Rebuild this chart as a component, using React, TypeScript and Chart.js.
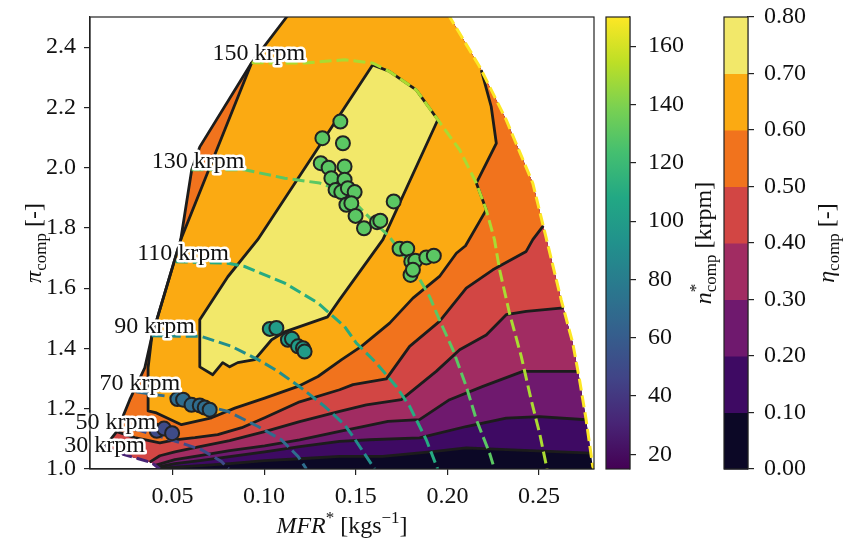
import React, { useEffect, useRef } from "react";
import { Chart, registerables } from "chart.js";

Chart.register(...registerables);

type P = [number, number];

// ---------- axes ----------
const X_MIN = 0.005;
const X_MAX = 0.28;
const Y_MIN = 1.0;
const Y_MAX = 2.5;
const xTicks = [0.05, 0.1, 0.15, 0.2, 0.25];
const yTicks = [1.0, 1.2, 1.4, 1.6, 1.8, 2.0, 2.2, 2.4];
const speedMin = 15;
const speedMax = 170;
const speedTicks = [20, 40, 60, 80, 100, 120, 140, 160];
const etaLevels = [0, 0.1, 0.2, 0.3, 0.4, 0.5, 0.6, 0.7, 0.8];
const etaColors = ["#0c0826", "#3e0a63", "#6f196e", "#a12c62", "#d24644", "#f1731d", "#fbaa12", "#f2e86a"];

// ---------- map boundary ----------
const surgeLine: P[] = [
  [0.0131, 1.074], [0.0196, 1.124], [0.0267, 1.23], [0.0349, 1.336], [0.0387, 1.439],
  [0.0545, 1.761], [0.0605, 1.993], [0.0649, 2.069], [0.0932, 2.348], [0.1123, 2.5], [0.132, 2.656],
];

// ---------- speed lines (krpm) ----------
const speedLineValues = [30, 50, 70, 90, 110, 130, 150, 170];
const speed30: P[] = [[0.0131, 1.074], [0.0202, 1.054], [0.0294, 1.0375], [0.0387, 1.021], [0.0431, 1.0]];
const speed50: P[] = [[0.0202, 1.13], [0.0311, 1.13], [0.0549, 1.086], [0.0658, 1.064], [0.0767, 1.025], [0.0807, 1.0]];
const speed70: P[] = [[0.03, 1.256], [0.0476, 1.241], [0.0622, 1.219], [0.0803, 1.191], [0.0967, 1.141], [0.1094, 1.097], [0.1185, 1.042], [0.1231, 1.0]];
const speed90: P[] = [[0.0387, 1.442], [0.0658, 1.44], [0.0822, 1.407], [0.0967, 1.363], [0.1076, 1.324], [0.1203, 1.269], [0.133, 1.208], [0.1439, 1.147], [0.1485, 1.108], [0.1603, 1.0]];
const speed110: P[] = [[0.0518, 1.688], [0.0803, 1.683], [0.0894, 1.672], [0.1112, 1.617], [0.1294, 1.551], [0.1439, 1.473], [0.1503, 1.418], [0.1612, 1.352], [0.1721, 1.274], [0.1794, 1.208], [0.1885, 1.097], [0.1947, 1.0]];
const speed130: P[] = [[0.0604, 1.993], [0.0894, 1.993], [0.1112, 1.965], [0.1303, 1.949], [0.1439, 1.92], [0.1549, 1.85], [0.1685, 1.77], [0.183, 1.65], [0.1903, 1.572], [0.1957, 1.495], [0.203, 1.396], [0.2103, 1.274], [0.2158, 1.164], [0.223, 1.053], [0.2257, 1.0]];
const speed150: P[] = [[0.0932, 2.348], [0.1221, 2.347], [0.1439, 2.358], [0.1594, 2.347], [0.1685, 2.319], [0.183, 2.258], [0.1948, 2.159], [0.2067, 2.059], [0.2158, 1.949], [0.2212, 1.86], [0.2257, 1.761], [0.2285, 1.661], [0.2339, 1.517], [0.2403, 1.374], [0.2457, 1.23], [0.2503, 1.119], [0.2544, 1.0]];
const speed170: P[] = [[0.1859, 2.656], [0.2012, 2.501], [0.2176, 2.335], [0.2321, 2.1585], [0.2466, 1.9486], [0.2539, 1.767], [0.2621, 1.5615], [0.2684, 1.418], [0.2721, 1.296], [0.2757, 1.1635], [0.2793, 1.0086], [0.28, 1.0]];

const speedLabels = ["30 krpm", "50 krpm", "70 krpm", "90 krpm", "110 krpm", "130 krpm", "150 krpm"];
const speedLabelX = [0.0129, 0.0191, 0.0322, 0.0403, 0.0558, 0.064, 0.0971];
const speedLabelY = [1.056, 1.134, 1.263, 1.452, 1.694, 1.998, 2.358];

// ---------- efficiency contours (right boundary -> left) ----------
const contour01: P[] = [[0.2783, 1.053], [0.2321, 1.064], [0.2103, 1.07], [0.1921, 1.058], [0.1648, 1.042], [0.1412, 1.042], [0.1194, 1.034], [0.1003, 1.028], [0.0812, 1.018], [0.0649, 1.011], [0.0513, 1.006], [0.0428, 1.0015]];
const contour02: P[] = [[0.2757, 1.1635], [0.2503, 1.174], [0.2321, 1.169], [0.2103, 1.141], [0.1848, 1.103], [0.1576, 1.097], [0.1412, 1.092], [0.1194, 1.074], [0.1003, 1.057], [0.0812, 1.041], [0.0649, 1.028], [0.0513, 1.018], [0.0418, 1.006]];
const contour03: P[] = [[0.2712, 1.324], [0.2412, 1.324], [0.2194, 1.274], [0.2012, 1.23], [0.1848, 1.164], [0.1676, 1.158], [0.1539, 1.141], [0.1412, 1.125], [0.1194, 1.097], [0.1003, 1.077], [0.0812, 1.061], [0.0649, 1.044], [0.0513, 1.031], [0.0405, 1.012]];
const contour04: P[] = [[0.2633, 1.535], [0.243, 1.523], [0.2321, 1.512], [0.2212, 1.445], [0.2067, 1.396], [0.1939, 1.324], [0.1749, 1.23], [0.1558, 1.213], [0.1412, 1.191], [0.1194, 1.157], [0.1003, 1.124], [0.0812, 1.094], [0.0649, 1.074], [0.0513, 1.057], [0.0431, 1.044], [0.0376, 1.023]];
const contour05: P[] = [[0.2523, 1.807], [0.2466, 1.761], [0.243, 1.722], [0.2248, 1.661], [0.2103, 1.6], [0.1957, 1.49], [0.1794, 1.407], [0.1667, 1.299], [0.1485, 1.28], [0.1412, 1.263], [0.1194, 1.223], [0.1003, 1.17], [0.0878, 1.137], [0.0747, 1.114], [0.0622, 1.104], [0.0513, 1.097], [0.0431, 1.087], [0.0294, 1.104], [0.0196, 1.124]];
const contour06: P[] = [[0.2185, 2.324], [0.2239, 2.203], [0.2267, 2.081], [0.2158, 1.949], [0.2212, 1.86], [0.2099, 1.741], [0.2049, 1.716], [0.1957, 1.639], [0.1812, 1.567], [0.1685, 1.484], [0.1531, 1.407], [0.1423, 1.363], [0.1294, 1.307], [0.1185, 1.274], [0.1003, 1.235], [0.084, 1.202], [0.0713, 1.17], [0.0549, 1.147], [0.0413, 1.186], [0.0367, 1.193], [0.0367, 1.336], [0.0387, 1.439], [0.0545, 1.761], [0.0932, 2.348]];
const contour07: P[] = [[0.1592, 2.341], [0.1685, 2.319], [0.183, 2.258], [0.1948, 2.159], [0.1648, 1.761], [0.1412, 1.562], [0.1347, 1.505], [0.1112, 1.455], [0.1041, 1.429], [0.0949, 1.363], [0.0856, 1.353], [0.0812, 1.339], [0.0774, 1.353], [0.072, 1.313], [0.0649, 1.339], [0.0649, 1.495], [0.0802, 1.638], [0.0965, 1.761], [0.1592, 2.341]];

// ---------- measured operating points ----------
const pointSpeeds = [130, 100, 70, 50];
const points130: P[] = [[0.1416, 2.153], [0.1318, 2.098], [0.143, 2.081], [0.1309, 2.015], [0.1352, 2.0], [0.1439, 2.004], [0.1367, 1.965], [0.1439, 1.96], [0.139, 1.926], [0.1421, 1.919], [0.1457, 1.932], [0.1494, 1.919], [0.1449, 1.877], [0.1476, 1.882], [0.1499, 1.84], [0.1545, 1.799], [0.1616, 1.819], [0.1634, 1.824], [0.1707, 1.888], [0.1739, 1.731], [0.1781, 1.731], [0.1803, 1.689], [0.1825, 1.691], [0.1885, 1.702], [0.1926, 1.708], [0.1799, 1.644], [0.1812, 1.661]];
const points100: P[] = [[0.1031, 1.465], [0.1067, 1.468], [0.113, 1.429], [0.1152, 1.432], [0.1185, 1.407], [0.1212, 1.401], [0.1221, 1.39]];
const points70: P[] = [[0.0527, 1.232], [0.0558, 1.23], [0.0604, 1.213], [0.0649, 1.211], [0.0676, 1.204], [0.0703, 1.197]];
const points50: P[] = [[0.0414, 1.127], [0.0454, 1.134], [0.0498, 1.119]];

// ---------- helpers ----------
const VIRIDIS = ["#440154", "#482475", "#414487", "#355f8d", "#2a788e", "#21918c", "#22a884", "#44bf70", "#7ad151", "#bddf26", "#fde725"];
function hexToRgb(h: string) {
  return [parseInt(h.slice(1, 3), 16), parseInt(h.slice(3, 5), 16), parseInt(h.slice(5, 7), 16)];
}
function viridis(v: number) {
  const t = Math.min(1, Math.max(0, (v - speedMin) / (speedMax - speedMin)));
  const s = t * (VIRIDIS.length - 1);
  const i = Math.min(VIRIDIS.length - 2, Math.floor(s));
  const f = s - i;
  const a = hexToRgb(VIRIDIS[i]);
  const b = hexToRgb(VIRIDIS[i + 1]);
  const c = a.map((av, k) => Math.round(av + (b[k] - av) * f));
  return `rgb(${c[0]},${c[1]},${c[2]})`;
}
const toXY = (pts: P[]) => pts.map(([x, y]) => ({ x, y }));

function superLevel(contour: P[]): P[] {
  const [xe, ye] = contour[contour.length - 1];
  const y0 = contour[0][1];
  const onSurge = ye > surgeLine[0][1];
  const part30 = onSurge ? [] : speed30.filter((p) => p[0] < xe).reverse();
  const partSurge = surgeLine.filter((p) => p[1] > (onSurge ? ye : -Infinity));
  const part170 = speed170.filter((p) => p[1] > y0);
  return [...contour, ...part30, ...partSurge, ...part170];
}
const domain: P[] = [...surgeLine, ...speed170, ...[...speed30].reverse()];

const FONT = "'Liberation Serif', 'Times New Roman', serif";
const fnt = (size: number, italic = false) => `${italic ? "italic " : ""}${size}px ${FONT}`;

type Part = { t: string; s?: number; i?: boolean; dy?: number; stack?: boolean };
function drawRich(ctx: CanvasRenderingContext2D, parts: Part[], x: number, y: number, rotate: boolean) {
  ctx.save();
  ctx.translate(x, y);
  if (rotate) ctx.rotate(-Math.PI / 2);
  ctx.fillStyle = "#111";
  ctx.textBaseline = "alphabetic";
  ctx.textAlign = "left";
  const widths = parts.map((p) => {
    ctx.font = fnt(p.s ?? 24, p.i);
    return ctx.measureText(p.t).width;
  });
  let total = 0;
  parts.forEach((p, k) => {
    if (!p.stack) total += widths[k];
  });
  let cx = -total / 2;
  parts.forEach((p, k) => {
    ctx.font = fnt(p.s ?? 24, p.i);
    ctx.fillText(p.t, cx, p.dy ?? 0);
    if (!p.stack) cx += widths[k];
  });
  ctx.restore();
}

const decorPlugin = {
  id: "decor",
  afterDatasetsDraw(chart: any) {
    const ctx: CanvasRenderingContext2D = chart.ctx;
    const xs = chart.scales.x;
    const ys = chart.scales.y;
    ctx.save();
    ctx.font = fnt(24);
    ctx.textAlign = "center";
    ctx.textBaseline = "alphabetic";
    ctx.lineJoin = "round";
    ctx.strokeStyle = "#ffffff";
    ctx.lineWidth = 5;
    ctx.fillStyle = "#111";
    speedLabels.forEach((lab, i) => {
      const px = xs.getPixelForValue(speedLabelX[i]);
      const py = ys.getPixelForValue(speedLabelY[i]);
      ctx.strokeText(lab, px, py);
      ctx.fillText(lab, px, py);
    });
    ctx.restore();
  },
  afterDraw(chart: any) {
    const ctx: CanvasRenderingContext2D = chart.ctx;
    const a = chart.chartArea;
    ctx.save();
    ctx.strokeStyle = "#222";
    ctx.lineWidth = 1.2;
    ctx.strokeRect(a.left, a.top, a.right - a.left, a.bottom - a.top);

    const w = 24;
    const c1 = chart.scales.c1;
    const yTop = c1.getPixelForValue(speedMax);
    const yBot = c1.getPixelForValue(speedMin);
    const g = ctx.createLinearGradient(0, yBot, 0, yTop);
    VIRIDIS.forEach((c, i) => g.addColorStop(i / (VIRIDIS.length - 1), c));
    ctx.fillStyle = g;
    ctx.fillRect(c1.left - w, yTop, w, yBot - yTop);
    ctx.strokeRect(c1.left - w, yTop, w, yBot - yTop);

    const c2 = chart.scales.c2;
    for (let k = 0; k < etaColors.length; k++) {
      const y0 = c2.getPixelForValue(etaLevels[k]);
      const y1 = c2.getPixelForValue(etaLevels[k + 1]);
      ctx.fillStyle = etaColors[k];
      ctx.fillRect(c2.left - w, y1, w, y0 - y1 + 0.5);
    }
    const t2 = c2.getPixelForValue(etaLevels[etaLevels.length - 1]);
    const b2 = c2.getPixelForValue(etaLevels[0]);
    ctx.strokeRect(c2.left - w, t2, w, b2 - t2);
    ctx.restore();

    const midY = (a.top + a.bottom) / 2;
    drawRich(ctx, [{ t: "MFR", i: true }, { t: "*", s: 17, dy: -10 }, { t: " [kgs" }, { t: "\u22121", s: 17, dy: -10 }, { t: "]" }], (a.left + a.right) / 2, 533, false);
    drawRich(ctx, [{ t: "\u03c0", i: true }, { t: "comp", s: 17, dy: 5 }, { t: " [-]" }], 41, midY, true);
    drawRich(ctx, [{ t: "n", i: true }, { t: "*", s: 17, dy: -10, stack: true }, { t: "comp", s: 17, dy: 5 }, { t: " [krpm]" }], 711, midY, true);
    drawRich(ctx, [{ t: "\u03b7", i: true }, { t: "comp", s: 17, dy: 5 }, { t: " [-]" }], 834, midY, true);
  },
};

function axisCommon() {
  return {
    grid: { display: true, drawOnChartArea: false, drawTicks: true, tickLength: 6, color: "#222", lineWidth: 1.2 },
    border: { display: true, color: "#222", width: 1.2 },
  };
}

export default function App() {
  const ref = useRef<HTMLCanvasElement>(null);
  useEffect(() => {
    const canvas = ref.current;
    if (!canvas) return;
    Chart.defaults.font.family = FONT;
    Chart.defaults.font.size = 24;
    Chart.defaults.color = "#111";

    const datasets: any[] = [];
    const polys: P[][] = [domain, ...[contour01, contour02, contour03, contour04, contour05, contour06].map(superLevel), contour07];
    polys.forEach((p, k) => {
      datasets.push({
        type: "line",
        data: toXY(p),
        fill: "shape",
        backgroundColor: etaColors[k],
        borderColor: "rgba(0,0,0,0)",
        borderWidth: 1,
        pointRadius: 0,
        tension: 0,
        order: 100 - k,
      });
    });
    [contour01, contour02, contour03, contour04, contour05, contour06, contour07, surgeLine].forEach((c) => {
      datasets.push({
        type: "line",
        data: toXY(c),
        fill: false,
        borderColor: "#1c1c1c",
        borderWidth: 2.8,
        borderJoinStyle: "round",
        pointRadius: 0,
        tension: 0,
        order: 50,
      });
    });
    [speed30, speed50, speed70, speed90, speed110, speed130, speed150, speed170].forEach((s, i) => {
      datasets.push({
        type: "line",
        data: toXY(s),
        fill: false,
        borderColor: viridis(speedLineValues[i]),
        borderWidth: 3,
        borderDash: [12, 5],
        borderCapStyle: "butt",
        pointRadius: 0,
        tension: 0,
        order: 40,
      });
    });
    [points130, points100, points70, points50].forEach((pts, i) => {
      datasets.push({
        type: "scatter",
        data: toXY(pts),
        backgroundColor: viridis(pointSpeeds[i]),
        borderColor: "#222",
        borderWidth: 2,
        pointRadius: 7,
        order: 10,
      });
    });

    const chart = new Chart(canvas, {
      type: "line",
      data: { datasets },
      options: {
        animation: false,
        responsive: false,
        devicePixelRatio: 1,
        events: [],
        layout: { padding: { top: 17, left: 0, right: 0, bottom: 0 }, autoPadding: false },
        plugins: { legend: { display: false }, tooltip: { enabled: false } },
        scales: {
          x: {
            type: "linear",
            position: "bottom",
            min: X_MIN,
            max: X_MAX,
            ...axisCommon(),
            ticks: { padding: 7, autoSkip: false, maxRotation: 0, color: "#111", callback: (v: any) => Number(v).toFixed(2) },
            afterBuildTicks: (s: any) => { s.ticks = xTicks.map((v) => ({ value: v })); },
            afterFit: (s: any) => { s.height = 74; s.paddingLeft = 0; s.paddingRight = 0; },
          },
          y: {
            type: "linear",
            position: "left",
            min: Y_MIN,
            max: Y_MAX,
            ...axisCommon(),
            ticks: { padding: 8, autoSkip: false, color: "#111", callback: (v: any) => Number(v).toFixed(1) },
            afterBuildTicks: (s: any) => { s.ticks = yTicks.map((v) => ({ value: v })); },
            afterFit: (s: any) => { s.width = 90; s.paddingTop = 0; s.paddingBottom = 0; },
          },
          spacer: {
            type: "linear",
            position: "right",
            weight: 0,
            min: 0,
            max: 1,
            grid: { display: false, drawOnChartArea: false },
            border: { display: false },
            ticks: { display: false },
            afterFit: (s: any) => { s.width = 36; s.paddingTop = 0; s.paddingBottom = 0; },
          },
          c1: {
            type: "linear",
            position: "right",
            weight: 1,
            min: speedMin,
            max: speedMax,
            ...axisCommon(),
            ticks: { padding: 12, autoSkip: false, color: "#111", callback: (v: any) => String(v) },
            afterBuildTicks: (s: any) => { s.ticks = speedTicks.map((v) => ({ value: v })); },
            afterFit: (s: any) => { s.width = 118; s.paddingTop = 0; s.paddingBottom = 0; },
          },
          c2: {
            type: "linear",
            position: "right",
            weight: 2,
            min: 0,
            max: 0.8,
            ...axisCommon(),
            ticks: { padding: 10, autoSkip: false, color: "#111", callback: (v: any) => Number(v).toFixed(2) },
            afterBuildTicks: (s: any) => { s.ticks = etaLevels.map((v) => ({ value: v })); },
            afterFit: (s: any) => { s.width = 97; s.paddingTop = 0; s.paddingBottom = 0; },
          },
        },
      } as any,
      plugins: [decorPlugin],
    });
    return () => chart.destroy();
  }, []);

  return (
    <div style={{ position: "fixed", left: 0, top: 0, width: 845, height: 543, background: "#fff" }}>
      <canvas ref={ref} width={845} height={543} style={{ display: "block", width: 845, height: 543 }} />
    </div>
  );
}
